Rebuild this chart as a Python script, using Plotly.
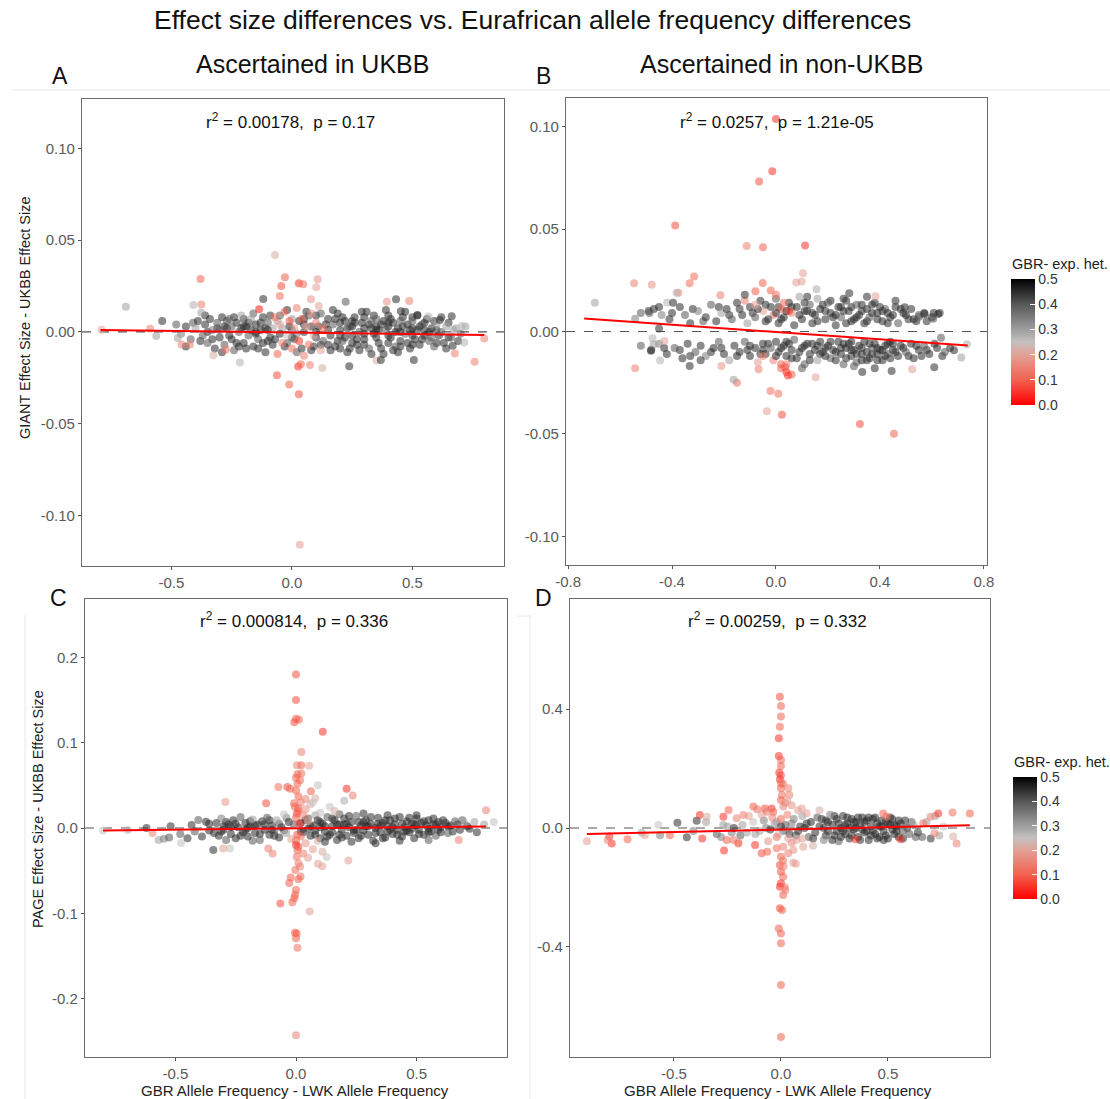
import plotly.graph_objects as go

W, H = 1110, 1099

# ---------------------------------------------------------------------------
# Data: (GBR - LWK allele frequency difference, effect size difference, GBR exp. het.)
# ---------------------------------------------------------------------------
giant_ukbb_bulk = [
    (-0.44, -0.008, .45), (-0.41, 0.005, .4), (-0.38, -0.005, .45), (-0.36, 0.009, .45), (-0.33, -0.004, .45),
    (-0.31, 0.002, .45), (-0.29, -0.011, .45), (-0.27, 0.006, .4), (-0.26, -0.002, .45), (-0.24, 0.008, .45),
    (-0.23, -0.006, .45), (-0.21, 0.002, .45), (-0.19, -0.009, .45), (-0.18, 0.005, .45), (-0.16, 0.01, .4),
    (-0.14, -0.009, .45), (-0.13, 0.005, .45), (-0.11, 0.002, .45), (-0.09, 0.009, .45), (-0.08, -0.007, .45),
    (-0.06, 0.006, .3), (-0.04, 0.002, .3), (-0.02, -0.006, .4), (0.0, 0.007, .3), (0.02, -0.001, .35),
    (0.04, -0.009, .45), (0.06, 0.011, .45), (0.08, 0.003, .45), (0.1, 0.009, .45), (0.12, -0.007, .45),
    (0.14, 0.004, .45), (0.16, -0.01, .45), (0.17, 0.012, .45), (0.19, -0.005, .45), (0.21, 0.008, .45),
    (0.23, 0.002, .45), (0.24, -0.009, .45), (0.26, 0.005, .45), (0.27, -0.004, .45), (0.29, 0.011, .45),
    (0.3, -0.007, .45), (0.32, 0.004, .45), (0.33, -0.012, .45), (0.34, 0.009, .45), (0.36, 0.001, .45),
    (0.37, -0.009, .45), (0.39, 0.012, .45), (0.4, -0.002, .45), (0.41, 0.007, .45), (0.43, 0.0, .45),
    (0.44, -0.011, .45), (0.46, 0.003, .45), (0.47, 0.011, .45), (0.49, 0.001, .45), (0.5, -0.007, .45),
    (0.52, 0.009, .45), (0.54, -0.004, .45), (0.55, 0.005, .45), (0.57, 0.0, .45), (0.59, 0.006, .45),
    (0.6, -0.006, .45), (0.62, 0.008, .45), (0.64, -0.009, .45), (0.65, 0.005, .45), (0.67, 0.001, .3),
    (0.69, -0.005, .45), (-0.35, 0.0, .45), (-0.28, 0.003, .45), (-0.2, 0.007, .45), (-0.15, 0.0, .45),
    (-0.1, -0.005, .45), (0.0, -0.003, .45), (0.05, 0.007, .45), (0.1, 0.0, .45), (0.15, -0.007, .45),
    (0.2, -0.002, .45), (0.25, 0.006, .45), (0.3, -0.001, .45), (0.35, 0.001, .45), (0.4, 0.005, .45),
    (0.45, -0.008, .45), (0.5, 0.008, .45), (0.55, 0.001, .45), (0.6, 0.001, .45), (0.65, -0.003, .45),
]

giant_ukbb_asc = [
    (-0.48, 0.004, .4), (-0.46, -0.001, .35), (-0.44, 0.003, .45), (-0.42, -0.004, .4), (-0.40, 0.002, .3),
    (-0.39, 0.006, .45), (-0.37, -0.002, .4), (-0.36, 0.004, .45), (-0.35, -0.006, .4), (-0.34, 0.007, .45),
    (-0.33, 0.001, .35), (-0.32, -0.009, .45), (-0.31, 0.005, .4), (-0.30, -0.003, .45), (-0.29, 0.008, .45),
    (-0.28, -0.007, .4), (-0.27, 0.002, .45), (-0.26, 0.007, .4), (-0.25, -0.004, .45), (-0.24, -0.01, .4),
    (-0.23, 0.005, .45), (-0.22, 0.0, .4), (-0.21, 0.009, .3), (-0.20, -0.006, .45), (-0.19, 0.003, .45),
    (-0.18, -0.002, .4), (-0.17, 0.007, .3), (-0.16, -0.008, .45), (-0.15, 0.004, .45), (-0.14, -0.004, .4),
    (-0.13, 0.001, .45), (-0.12, 0.008, .45), (-0.11, -0.011, .45), (-0.10, 0.005, .4), (-0.09, -0.003, .45),
    (-0.08, 0.002, .3), (-0.07, -0.004, .45), (-0.05, 0.009, .4), (-0.03, -0.008, .45), (-0.01, 0.003, .45),
    (0.01, -0.004, .4), (0.03, 0.006, .45), (0.05, 0.0, .45), (0.07, 0.009, .4), (0.09, -0.008, .45),
    (0.11, 0.003, .45), (0.13, -0.005, .4), (0.15, 0.007, .45), (0.16, -0.002, .45), (0.17, 0.004, .4),
    (0.18, -0.008, .45), (0.19, 0.01, .45), (0.20, 0.001, .45), (0.21, -0.005, .4), (0.22, 0.006, .45),
    (0.23, -0.011, .45), (0.24, 0.003, .4), (0.25, -0.002, .45), (0.26, 0.008, .45), (0.27, -0.007, .45),
    (0.28, 0.0, .4), (0.29, 0.005, .45), (0.30, -0.004, .45), (0.31, 0.011, .45), (0.32, -0.009, .4),
    (0.33, 0.002, .45), (0.34, -0.001, .45), (0.35, 0.007, .4), (0.36, -0.006, .45), (0.37, 0.004, .45),
    (0.38, -0.012, .45), (0.39, 0.001, .4), (0.40, 0.009, .45), (0.41, -0.003, .45), (0.42, 0.005, .45),
    (0.43, -0.008, .4), (0.44, 0.002, .45), (0.45, -0.005, .45), (0.46, 0.008, .45), (0.47, -0.001, .4),
    (0.48, 0.004, .45), (0.49, -0.009, .45), (0.50, 0.006, .4), (0.51, -0.004, .45), (0.52, 0.001, .45),
    (0.53, -0.007, .45), (0.54, 0.004, .4), (0.55, -0.002, .45), (0.56, 0.007, .45), (0.57, -0.005, .4),
    (0.58, 0.002, .45), (0.59, -0.008, .4), (0.60, 0.004, .3), (0.61, -0.002, .45), (0.62, 0.0, .4),
    (0.63, -0.006, .45), (0.64, 0.003, .3), (0.66, -0.003, .4), (0.68, 0.002, .3), (0.70, -0.001, .4),
    (0.72, 0.003, .3), (-0.2, 0.003, .45), (-0.15, -0.001, .45), (-0.1, 0.001, .45), (-0.05, -0.001, .45),
    (0.0, 0.001, .4), (0.05, 0.004, .45), (0.1, -0.003, .45), (0.15, 0.001, .45), (0.2, 0.005, .45),
    (0.2, -0.009, .45), (0.25, 0.003, .45), (0.25, -0.006, .45), (0.3, 0.002, .45), (0.3, 0.008, .45),
    (0.35, -0.003, .45), (0.35, 0.003, .45), (0.4, -0.006, .45), (0.4, 0.003, .45), (0.45, 0.0, .45),
    (0.45, 0.006, .4), (0.5, -0.002, .45), (0.5, 0.002, .45), (-0.25, 0.003, .4), (-0.3, 0.001, .4),
    (0.18, 0.007, .45), (0.22, -0.003, .45), (0.28, -0.01, .45), (0.33, 0.006, .4), (0.38, 0.006, .45),
    (0.42, -0.01, .45), (0.48, -0.006, .45), (0.53, 0.003, .45), (0.58, -0.003, .4), (-0.12, -0.006, .45),
    (-0.17, 0.001, .45), (-0.22, -0.008, .45), (0.12, 0.01, .4), (0.08, -0.01, .45), (0.02, -0.011, .4),
    (-0.02, 0.012, .45),
    (-0.07, 0.008, .12), (-0.06, -0.012, .1), (-0.05, 0.004, .2), (-0.04, -0.006, .15), (-0.03, 0.011, .1),
    (-0.02, -0.002, .25), (-0.01, 0.006, .08), (0.0, -0.009, .12), (0.01, 0.002, .2), (0.02, 0.013, .15),
    (0.03, -0.005, .05), (0.04, 0.007, .1), (0.05, -0.013, .15), (0.06, 0.003, .2), (0.07, -0.007, .12),
    (0.08, 0.01, .18), (0.09, -0.002, .22), (0.10, 0.005, .15), (0.12, -0.01, .2), (0.13, 0.002, .12),
    (-0.07, 0.042, .22), (-0.379, 0.0289, .1), (-0.029, 0.0298, .1), (-0.044, 0.025, .08), (0.029, 0.0265, .05),
    (0.047, 0.026, .12), (0.107, 0.0287, .18), (0.101, 0.0244, .2), (-0.05, 0.0196, .12), (-0.119, 0.018, .45),
    (-0.136, 0.0124, .03), (-0.689, 0.0138, .3), (-0.409, 0.0147, .27), (-0.376, 0.0149, .15), (-0.376, 0.0104, .3),
    (0.223, 0.0165, .4), (0.394, 0.0165, .18), (0.432, 0.0178, .45), (0.487, 0.0169, .15), (0.079, 0.0178, .18),
    (0.111, 0.0142, .2), (-0.538, 0.006, .45), (-0.588, 0.0018, .15), (-0.563, -0.0022, .3), (-0.474, -0.0033, .3),
    (-0.458, -0.0069, .15), (-0.423, -0.0069, .15), (-0.216, -0.0167, .27), (-0.326, -0.0127, .22), (-0.274, -0.0095, .12),
    (-0.062, -0.0236, .08), (-0.011, -0.0287, .1), (0.029, -0.034, .08), (0.026, -0.0189, .05), (0.037, -0.0176, .1),
    (0.075, -0.018, .15), (0.126, -0.0196, .22), (0.238, -0.0187, .45), (0.351, -0.0156, .22), (0.369, -0.0153, .45),
    (0.506, -0.0153, .45), (0.676, -0.0118, .15), (0.758, -0.0162, .15), (0.798, -0.0036, .15), (0.715, -0.0058, .27),
    (0.667, -0.0075, .45), (0.663, 0.0085, .45), (0.705, 0.0033, .27), (0.614, 0.0065, .45), (0.566, 0.0084, .27),
    (0.521, 0.0093, .45), (0.452, 0.0113, .45), (0.033, -0.116, .2), (-0.79, 0.0012, .2),
]

giant_nonukbb_bulk = [
    (-0.45, 0.012, .45), (-0.4, 0.009, .45), (-0.32, 0.011, .45), (-0.28, 0.005, .4), (-0.22, 0.012, .45),
    (-0.18, 0.008, .45), (-0.14, 0.011, .45), (-0.09, 0.009, .45), (-0.04, 0.013, .45), (0.01, 0.012, .45),
    (0.02, 0.006, .45), (0.06, 0.012, .45), (0.09, 0.008, .45), (0.11, 0.014, .45), (0.14, 0.009, .45),
    (0.16, 0.005, .45), (0.19, 0.01, .45), (0.21, 0.015, .45), (0.23, 0.008, .45), (0.25, 0.012, .45),
    (0.27, 0.004, .45), (0.29, 0.012, .45), (0.31, 0.007, .45), (0.33, 0.01, .45), (0.35, 0.005, .45),
    (0.37, 0.013, .45), (0.39, 0.006, .45), (0.41, 0.01, .45), (0.43, 0.004, .45), (0.45, 0.008, .45),
    (0.48, 0.011, .45), (0.5, 0.008, .45), (0.52, 0.011, .45), (0.54, 0.005, .45), (0.57, 0.009, .45),
    (0.6, 0.007, .45), (0.63, 0.009, .45), (0.12, 0.017, .45), (0.26, 0.016, .45), (0.35, 0.017, .45),
    (-0.43, -0.008, .45), (-0.37, -0.009, .45), (-0.33, -0.012, .45), (-0.25, -0.01, .45), (-0.21, -0.008, .45),
    (-0.15, -0.012, .45), (-0.11, -0.009, .45), (-0.06, -0.011, .45), (-0.03, -0.006, .45), (0.02, -0.008, .45),
    (0.04, -0.005, .45), (0.06, -0.013, .45), (0.09, -0.01, .45), (0.11, -0.007, .45), (0.13, -0.014, .45),
    (0.14, -0.006, .45), (0.17, -0.011, .45), (0.19, -0.008, .45), (0.21, -0.005, .45), (0.23, -0.01, .45),
    (0.25, -0.008, .45), (0.27, -0.013, .45), (0.29, -0.005, .45), (0.31, -0.011, .45), (0.33, -0.008, .45),
    (0.35, -0.014, .45), (0.37, -0.011, .45), (0.39, -0.014, .45), (0.41, -0.009, .45), (0.43, -0.006, .45),
    (0.44, -0.013, .45), (0.46, -0.01, .45), (0.49, -0.008, .45), (0.51, -0.012, .45), (0.54, -0.007, .45),
    (0.56, -0.012, .45), (0.58, -0.009, .45), (0.61, -0.006, .45), (0.64, -0.012, .45), (0.67, -0.008, .45),
    (0.1, -0.018, .4), (0.3, -0.017, .4), (0.38, -0.018, .45),
]

giant_nonukbb_asc = [
    (-0.52, 0.009, .4), (-0.47, 0.011, .45), (-0.44, 0.008, .35), (-0.41, 0.006, .45), (-0.37, 0.012, .45),
    (-0.35, 0.008, .4), (-0.33, 0.004, .45), (-0.30, 0.01, .35), (-0.27, 0.007, .45), (-0.25, 0.013, .4),
    (-0.23, 0.005, .45), (-0.21, 0.009, .3), (-0.19, 0.011, .45), (-0.17, 0.006, .4), (-0.15, 0.014, .45),
    (-0.13, 0.008, .45), (-0.11, 0.004, .3), (-0.10, 0.012, .45), (-0.08, 0.007, .4), (-0.06, 0.015, .45),
    (-0.05, 0.01, .2), (-0.04, 0.005, .45), (-0.02, 0.012, .45), (-0.01, 0.008, .15), (0.0, 0.016, .4),
    (0.01, 0.004, .45), (0.02, 0.011, .1), (0.03, 0.007, .45), (0.05, 0.014, .45), (0.06, 0.009, .15),
    (0.07, 0.003, .45), (0.08, 0.012, .45), (0.09, 0.017, .3), (0.10, 0.006, .45), (0.11, 0.01, .45),
    (0.13, 0.013, .4), (0.14, 0.004, .45), (0.15, 0.008, .45), (0.16, 0.016, .3), (0.17, 0.011, .45),
    (0.19, 0.006, .45), (0.20, 0.014, .4), (0.21, 0.009, .45), (0.23, 0.003, .45), (0.24, 0.012, .45),
    (0.25, 0.007, .4), (0.27, 0.015, .45), (0.28, 0.01, .45), (0.29, 0.005, .45), (0.31, 0.013, .4),
    (0.32, 0.008, .45), (0.34, 0.004, .45), (0.35, 0.011, .45), (0.36, 0.007, .4), (0.38, 0.014, .45),
    (0.39, 0.009, .45), (0.41, 0.005, .45), (0.42, 0.011, .4), (0.44, 0.007, .45), (0.46, 0.012, .45),
    (0.47, 0.004, .4), (0.49, 0.009, .45), (0.51, 0.006, .45), (0.55, 0.008, .4), (0.58, 0.005, .45),
    (0.18, 0.013, .45), (0.22, 0.007, .45), (0.26, 0.01, .45), (0.3, 0.006, .45), (0.33, 0.013, .45),
    (0.37, 0.009, .45), (0.4, 0.012, .45), (0.43, 0.009, .45), (0.0, 0.009, .45), (-0.03, 0.006, .45),
    (0.04, 0.01, .45), (-0.07, 0.011, .45), (0.12, 0.01, .45),
    (-0.52, -0.007, .4), (-0.48, -0.009, .45), (-0.45, -0.006, .35), (-0.42, -0.011, .45), (-0.39, -0.008, .4),
    (-0.36, -0.013, .45), (-0.34, -0.006, .45), (-0.31, -0.01, .4), (-0.29, -0.007, .45), (-0.27, -0.012, .35),
    (-0.24, -0.008, .45), (-0.22, -0.005, .4), (-0.20, -0.011, .45), (-0.18, -0.014, .3), (-0.16, -0.007, .45),
    (-0.14, -0.01, .45), (-0.12, -0.005, .4), (-0.10, -0.012, .45), (-0.08, -0.008, .45), (-0.07, -0.015, .2),
    (-0.05, -0.006, .45), (-0.04, -0.011, .45), (-0.02, -0.008, .4), (-0.01, -0.014, .15), (0.0, -0.005, .45),
    (0.01, -0.01, .45), (0.02, -0.016, .1), (0.03, -0.007, .45), (0.04, -0.012, .45), (0.06, -0.009, .45),
    (0.07, -0.004, .4), (0.08, -0.013, .45), (0.10, -0.008, .45), (0.11, -0.016, .4), (0.12, -0.006, .45),
    (0.13, -0.011, .45), (0.15, -0.009, .45), (0.16, -0.014, .3), (0.17, -0.005, .45), (0.18, -0.01, .45),
    (0.20, -0.007, .45), (0.21, -0.013, .4), (0.22, -0.009, .45), (0.24, -0.005, .45), (0.25, -0.011, .45),
    (0.26, -0.016, .4), (0.27, -0.008, .45), (0.28, -0.006, .45), (0.29, -0.012, .45), (0.30, -0.009, .45),
    (0.31, -0.015, .4), (0.32, -0.007, .45), (0.33, -0.011, .45), (0.34, -0.005, .45), (0.35, -0.01, .45),
    (0.36, -0.013, .45), (0.37, -0.008, .4), (0.38, -0.006, .45), (0.39, -0.011, .45), (0.40, -0.009, .45),
    (0.41, -0.014, .45), (0.42, -0.007, .45), (0.43, -0.011, .4), (0.44, -0.005, .45), (0.45, -0.009, .45),
    (0.47, -0.012, .45), (0.48, -0.007, .45), (0.50, -0.01, .4), (0.52, -0.006, .45), (0.53, -0.013, .45),
    (0.55, -0.009, .45), (0.57, -0.007, .4), (0.59, -0.011, .45), (0.62, -0.008, .45), (0.65, -0.01, .4),
    (0.16, -0.007, .45), (0.19, -0.012, .45), (0.23, -0.014, .45), (0.26, -0.006, .45), (0.29, -0.009, .45),
    (0.33, -0.014, .45), (0.36, -0.006, .45), (0.39, -0.008, .45), (0.42, -0.012, .45), (0.45, -0.006, .45),
    (-0.05, -0.009, .45), (0.05, -0.006, .45), (0.0, -0.012, .45), (-0.1, -0.007, .45),
    (-0.02, 0.02, .1), (0.0, 0.018, .12), (0.03, 0.014, .12), (0.05, 0.01, .05), (-0.05, -0.012, .15),
    (0.02, -0.018, .1), (0.06, -0.021, .1), (0.04, -0.016, .15), (-0.08, 0.013, .2), (-0.12, 0.015, .15),
    (0.0, 0.1037, .05), (-0.014, 0.0782, .05), (-0.065, 0.0732, .08), (-0.388, 0.0517, .08), (-0.113, 0.0418, .15),
    (-0.05, 0.0411, .1), (0.112, 0.042, .05), (0.104, 0.0285, .2), (0.099, 0.0244, .2), (0.078, 0.0239, .2),
    (-0.051, 0.0237, .1), (-0.079, 0.0197, .1), (-0.546, 0.0236, .15), (-0.478, 0.0228, .18), (-0.315, 0.0268, .12),
    (-0.332, 0.0236, .12), (-0.376, 0.0189, .15), (-0.383, 0.0189, .27), (-0.214, 0.0177, .15), (-0.697, 0.014, .3),
    (-0.542, -0.0179, .15), (-0.021, -0.0291, .12), (0.009, -0.0304, .12), (-0.035, -0.0389, .2), (0.023, -0.0407, .08),
    (0.323, -0.0452, .08), (0.454, -0.0499, .1), (-0.15, -0.025, .12), (-0.163, -0.0236, .3), (-0.21, -0.0169, .18),
    (0.04, -0.0198, .05), (0.046, -0.0215, .05), (0.035, -0.0175, .08), (-0.067, -0.0184, .15), (0.153, -0.0223, .2),
    (0.524, -0.0184, .2), (0.609, -0.0174, .45), (0.445, -0.0193, .45), (0.332, -0.0198, .45), (0.383, 0.0172, .2),
    (0.735, -0.0062, .28), (0.685, -0.0091, .45), (0.713, -0.0127, .3), (0.635, -0.0031, .4), (0.607, 0.009, .45),
    (0.624, 0.0086, .45), (0.605, 0.0062, .4), (0.53, 0.006, .45), (0.551, 0.0072, .4), (0.572, 0.0085, .45),
    (0.46, 0.015, .45), (0.495, 0.0119, .45), (0.282, 0.0187, .45), (0.156, 0.0206, .28), (-0.12, 0.018, .45),
    (-0.419, 0.0141, .27), (-0.396, 0.014, .45), (-0.49, 0.01, .45), (-0.487, 0.009, .4), (-0.542, 0.0062, .35),
    (-0.45, 0.0015, .45), (-0.475, -0.0033, .27), (-0.471, -0.0063, .3), (-0.481, -0.0094, .45), (-0.446, -0.0141, .27),
    (-0.429, -0.0046, .2), (-0.332, -0.0169, .45), (-0.29, -0.014, .45),
]

page_ukbb_bulk = [
    (-0.36, 0.005, .45), (-0.34, -0.006, .45), (-0.31, -0.004, .45), (-0.29, 0.007, .45), (-0.27, 0.001, .45),
    (-0.25, 0.005, .45), (-0.23, -0.009, .45), (-0.21, -0.002, .45), (-0.19, 0.008, .45), (-0.17, 0.003, .45),
    (-0.15, -0.007, .45), (-0.13, 0.004, .45), (-0.11, 0.009, .45), (-0.09, -0.009, .45), (-0.07, 0.005, .4),
    (-0.05, -0.003, .4), (0.02, -0.004, .45), (0.04, 0.009, .45), (0.06, 0.002, .45), (0.08, -0.008, .45),
    (0.1, 0.007, .45), (0.12, 0.002, .45), (0.13, -0.01, .45), (0.15, 0.011, .45), (0.17, 0.004, .45),
    (0.19, -0.011, .45), (0.21, 0.005, .45), (0.22, 0.014, .45), (0.24, -0.003, .45), (0.26, 0.007, .45),
    (0.27, -0.009, .45), (0.29, 0.002, .45), (0.31, 0.013, .45), (0.33, -0.006, .45), (0.34, 0.005, .45),
    (0.36, -0.012, .45), (0.37, 0.009, .45), (0.39, -0.002, .45), (0.41, 0.011, .45), (0.42, -0.008, .45),
    (0.44, 0.005, .45), (0.46, -0.003, .45), (0.47, 0.012, .45), (0.49, 0.004, .45), (0.51, -0.007, .45),
    (0.53, 0.008, .45), (0.55, -0.005, .45), (0.57, 0.011, .45), (0.59, -0.002, .45), (0.61, 0.009, .45),
    (0.63, 0.002, .45), (0.65, -0.004, .45), (0.67, 0.004, .45), (0.69, 0.009, .4), (0.71, 0.002, .45),
    (0.23, -0.016, .45), (0.33, -0.018, .45), (0.43, -0.015, .45), (0.28, 0.017, .45), (0.38, 0.015, .45),
    (0.18, 0.016, .4), (0.5, 0.015, .45), (0.55, -0.014, .4), (0.12, -0.016, .45), (0.08, 0.015, .3),
    (-0.04, 0.012, .35), (-0.18, -0.015, .4),
]

page_ukbb_asc = [
    (-0.62, 0.0, .45), (-0.595, -0.006, .15), (-0.57, -0.014, .3), (-0.548, -0.0125, .35), (-0.526, -0.011, .4),
    (-0.52, 0.002, .45), (-0.48, -0.007, .4), (-0.477, -0.0176, .25), (-0.45, -0.012, .45), (-0.433, 0.0035, .45),
    (-0.42, -0.004, .4), (-0.405, 0.0094, .4), (-0.39, -0.01, .45), (-0.373, 0.0074, .45), (-0.36, -0.003, .45),
    (-0.343, -0.0258, .45), (-0.33, 0.006, .45), (-0.32, -0.009, .45), (-0.31, 0.011, .35), (-0.30, -0.002, .45),
    (-0.29, -0.014, .4), (-0.28, 0.004, .45), (-0.27, -0.007, .45), (-0.26, 0.009, .45), (-0.25, -0.012, .45),
    (-0.24, 0.001, .45), (-0.23, 0.013, .4), (-0.22, -0.005, .45), (-0.21, 0.006, .45), (-0.20, -0.01, .45),
    (-0.19, 0.002, .45), (-0.18, 0.01, .3), (-0.17, -0.006, .45), (-0.16, 0.004, .45), (-0.15, -0.014, .4),
    (-0.14, 0.008, .45), (-0.13, -0.002, .45), (-0.12, 0.012, .4), (-0.11, -0.008, .45), (-0.10, 0.003, .45),
    (-0.09, -0.004, .4), (-0.08, 0.009, .3), (-0.07, -0.011, .45), (-0.06, 0.001, .45), (-0.05, 0.016, .25),
    (-0.04, -0.006, .3), (-0.03, 0.007, .45), (-0.02, -0.013, .2), (-0.01, 0.004, .4), (-0.698, -0.0023, .27),
    (0.02, 0.006, .45), (0.03, -0.005, .45), (0.05, 0.011, .4), (0.06, -0.009, .45), (0.07, 0.003, .45),
    (0.08, -0.003, .45), (0.09, 0.009, .45), (0.10, -0.012, .45), (0.11, 0.005, .45), (0.12, -0.004, .45),
    (0.13, 0.013, .4), (0.14, -0.008, .45), (0.15, 0.002, .45), (0.16, 0.009, .45), (0.17, -0.014, .45),
    (0.18, 0.004, .45), (0.19, -0.002, .45), (0.20, 0.011, .45), (0.21, -0.009, .45), (0.22, 0.001, .45),
    (0.23, 0.007, .45), (0.24, -0.006, .45), (0.25, 0.014, .4), (0.26, -0.012, .45), (0.27, 0.003, .45),
    (0.28, -0.003, .45), (0.29, 0.009, .45), (0.30, -0.008, .45), (0.31, 0.005, .45), (0.32, -0.015, .45),
    (0.33, 0.0, .45), (0.34, 0.012, .45), (0.35, -0.005, .45), (0.36, 0.006, .45), (0.37, -0.011, .45),
    (0.38, 0.002, .45), (0.39, 0.009, .45), (0.40, -0.007, .45), (0.41, 0.004, .45), (0.42, -0.002, .45),
    (0.43, 0.013, .45), (0.44, -0.01, .45), (0.45, 0.001, .45), (0.46, 0.008, .45), (0.47, -0.005, .45),
    (0.48, 0.005, .45), (0.49, -0.012, .45), (0.50, 0.011, .45), (0.51, -0.002, .45), (0.52, 0.006, .45),
    (0.53, -0.008, .45), (0.54, 0.003, .45), (0.55, 0.009, .45), (0.56, -0.004, .45), (0.57, 0.004, .45),
    (0.58, -0.009, .4), (0.59, 0.007, .45), (0.60, 0.001, .45), (0.62, 0.006, .45), (0.63, -0.006, .4),
    (0.64, 0.003, .45), (0.66, 0.008, .4), (0.68, -0.002, .45), (0.70, 0.005, .3), (0.72, -0.001, .45),
    (0.74, 0.007, .3), (0.75, -0.005, .45), (0.78, 0.004, .3), (0.82, 0.007, .25),
    (0.15, -0.005, .45), (0.2, 0.004, .45), (0.25, -0.002, .45), (0.3, 0.002, .45), (0.35, 0.003, .45),
    (0.4, 0.001, .45), (0.45, -0.004, .45), (0.5, 0.003, .45), (0.55, -0.001, .45), (0.6, -0.005, .45),
    (-0.1, -0.002, .45), (-0.2, 0.0, .45), (-0.3, 0.002, .45), (0.1, 0.001, .45), (0.05, -0.001, .45),
    (0.18, -0.008, .45), (0.28, 0.007, .45), (0.38, -0.004, .45), (0.48, -0.001, .45), (0.58, 0.004, .45),
    (0.0, 0.012, .1), (0.005, -0.008, .08), (0.01, 0.02, .12), (0.0, -0.015, .1), (0.015, 0.005, .05),
    (-0.005, 0.025, .1), (0.01, -0.022, .08), (0.02, 0.03, .15), (0.02, -0.01, .12), (0.03, 0.015, .15),
    (0.03, -0.03, .15), (0.04, 0.022, .18), (0.04, -0.018, .18), (0.05, 0.008, .2), (0.05, -0.035, .2),
    (0.06, 0.028, .22), (0.07, -0.025, .2), (0.08, 0.035, .22), (0.09, -0.015, .22), (0.1, 0.018, .25),
    (0.11, -0.028, .22),
    (0.675, -0.014, .15), (0.788, 0.0207, .15), (0.217, -0.038, .2), (0.127, -0.034, .25), (0.109, -0.045, .2),
    (0.091, -0.042, .2), (-0.115, -0.024, .15), (-0.097, -0.03, .15), (-0.274, -0.024, .25), (-0.302, -0.024, .2),
    (-0.293, 0.0305, .18), (-0.124, 0.029, .08), (0.21, 0.046, .05), (0.235, 0.038, .15), (0.091, 0.05, .25),
    (0.062, 0.043, .1), (0.14, 0.025, .25), (0.07, 0.03, .25), (0.04, 0.034, .15), (0.16, 0.02, .22),
    (0.2, 0.032, .28), (-0.8, -0.003, .25),
    (0.0, 0.18, .08), (0.0, 0.15, .08), (0.0, 0.128, .1), (0.012, 0.127, .1), (-0.007, 0.124, .08),
    (0.111, 0.113, .05), (0.022, 0.089, .15), (0.004, 0.0735, .15), (0.022, 0.0735, .1), (0.055, 0.073, .2),
    (0.006, 0.063, .1), (0.022, 0.064, .12), (0.0, 0.059, .1), (0.017, 0.056, .12), (0.006, 0.052, .1),
    (-0.073, 0.048, .12), (-0.036, 0.048, .08), (-0.024, 0.046, .1), (0.0, 0.044, .1), (0.01, 0.037, .1),
    (-0.008, 0.029, .1), (0.01, 0.023, .1), (0.003, 0.017, .08),
    (0.0, -0.02, .05), (0.006, -0.0258, .1), (0.003, -0.0336, .12), (0.01, -0.0414, .15), (0.017, -0.0453, .15),
    (-0.003, -0.0493, .12), (0.019, -0.057, .12), (-0.022, -0.058, .1), (0.01, -0.06, .1), (-0.028, -0.0645, .1),
    (0.0, -0.0727, .1), (-0.004, -0.0786, .1), (-0.007, -0.0825, .1), (-0.015, -0.0872, .1), (-0.065, -0.0887, .08),
    (0.057, -0.098, .2), (-0.004, -0.1228, .08), (0.003, -0.1236, .1), (0.0, -0.1294, .1), (0.006, -0.1404, .12),
    (0.0, -0.243, .15),
]

page_nonukbb_bulk = [
    (0.12, 0.015, .45), (0.15, -0.035, .45), (0.19, 0.03, .45), (0.21, -0.025, .45), (0.25, 0.04, .45),
    (0.27, 0.015, .45), (0.29, -0.01, .45), (0.31, 0.035, .45), (0.33, -0.025, .45), (0.35, 0.0, .45),
    (0.37, -0.04, .45), (0.39, 0.02, .45), (0.41, 0.035, .45), (0.43, -0.01, .45), (0.45, -0.035, .45),
    (0.47, 0.005, .45), (0.49, -0.025, .45), (0.51, 0.035, .45), (0.53, 0.01, .45), (0.55, 0.025, .45),
    (0.57, -0.035, .45), (0.59, 0.0, .45), (0.61, 0.02, .4), (0.63, -0.03, .4), (-0.27, 0.01, .3),
    (-0.23, -0.015, .35), (-0.18, 0.01, .3), (-0.12, -0.02, .3), (-0.07, 0.0, .35), (-0.02, 0.02, .3),
    (0.01, -0.01, .4), (0.05, 0.015, .35), (0.07, -0.025, .4), (0.09, 0.005, .45), (-0.35, 0.02, .3),
    (-0.41, -0.01, .35),
]

page_nonukbb_asc = [
    (0.02, 0.01, .4), (0.04, -0.02, .45), (0.06, 0.03, .35), (0.08, -0.01, .45), (0.1, 0.04, .3),
    (0.11, 0.0, .45), (0.13, -0.03, .4), (0.14, 0.02, .45), (0.16, -0.015, .45), (0.17, 0.035, .4),
    (0.18, 0.005, .45), (0.2, -0.04, .35), (0.21, 0.025, .45), (0.22, -0.01, .45), (0.23, 0.045, .35),
    (0.24, 0.01, .45), (0.25, -0.025, .45), (0.26, 0.03, .45), (0.27, -0.045, .4), (0.28, 0.0, .45),
    (0.29, 0.04, .45), (0.3, -0.02, .45), (0.31, 0.015, .45), (0.32, -0.035, .45), (0.33, 0.03, .45),
    (0.34, -0.005, .45), (0.35, 0.02, .45), (0.36, -0.03, .45), (0.37, 0.01, .45), (0.38, 0.035, .45),
    (0.39, -0.015, .45), (0.4, 0.025, .45), (0.41, -0.04, .45), (0.42, 0.005, .45), (0.43, 0.03, .45),
    (0.44, -0.02, .45), (0.45, 0.015, .45), (0.46, -0.03, .45), (0.47, 0.025, .45), (0.48, -0.01, .45),
    (0.49, 0.02, .45), (0.5, -0.035, .45), (0.51, 0.01, .45), (0.52, 0.03, .45), (0.53, -0.02, .45),
    (0.54, 0.005, .45), (0.55, -0.03, .45), (0.56, 0.015, .45), (0.57, -0.01, .4), (0.58, 0.025, .45),
    (0.6, -0.02, .4), (0.62, 0.01, .3), (0.64, -0.015, .45), (0.66, -0.03, .4), (0.68, 0.02, .3),
    (0.7, -0.035, .45), (0.72, 0.04, .3), (0.74, -0.025, .3), (0.76, 0.005, .25),
    (0.22, 0.02, .45), (0.26, -0.01, .45), (0.3, 0.01, .45), (0.34, 0.02, .45), (0.38, -0.005, .45),
    (0.42, -0.025, .45), (0.46, 0.005, .45), (0.5, 0.015, .45), (0.54, -0.01, .45), (0.28, -0.03, .45),
    (0.32, 0.0, .45), (0.36, 0.035, .45), (0.4, -0.01, .45), (0.44, 0.035, .45), (0.48, -0.04, .45),
    (0.52, -0.005, .45), (0.24, -0.04, .45), (0.2, 0.0, .45),
    (-0.573, 0.01, .25), (-0.484, 0.018, .45), (-0.565, -0.024, .35), (-0.44, -0.031, .45), (-0.394, 0.024, .45),
    (-0.651, -0.016, .3), (-0.3, -0.02, .4), (-0.28, -0.03, .35), (-0.25, 0.005, .3), (-0.22, 0.0, .45),
    (-0.19, -0.025, .4), (-0.16, -0.015, .3), (-0.13, 0.02, .25), (-0.1, -0.01, .3), (-0.08, 0.025, .35),
    (-0.05, -0.005, .45), (-0.03, 0.015, .3), (-0.01, -0.02, .25), (0.0, 0.005, .45),
    (0.0, 0.03, .1), (-0.02, -0.03, .12), (0.03, 0.045, .15), (-0.04, 0.035, .15), (0.05, -0.05, .15),
    (-0.06, -0.045, .18), (0.08, 0.06, .2), (-0.09, 0.045, .2), (0.1, -0.035, .2), (0.12, 0.05, .2),
    (-0.15, 0.04, .2), (0.15, -0.06, .22), (0.18, 0.06, .22), (-0.2, -0.05, .18),
    (-0.129, 0.072, .1), (-0.111, 0.063, .12), (-0.075, 0.066, .08), (-0.044, 0.066, .05), (-0.036, 0.055, .1),
    (-0.067, 0.055, .15), (0.011, 0.072, .15), (0.05, 0.077, .18), (0.097, 0.066, .2), (-0.121, -0.057, .05),
    (-0.09, -0.085, .08), (-0.064, -0.08, .1), (-0.02, -0.068, .12), (0.011, -0.063, .15), (0.034, -0.085, .15),
    (0.058, -0.074, .18), (0.034, -0.035, .2), (0.073, -0.04, .2), (0.104, -0.063, .2), (0.058, -0.117, .18),
    (-0.379, 0.044, .05), (-0.347, 0.038, .22), (-0.269, 0.038, .05), (-0.245, 0.061, .1), (-0.207, 0.033, .15),
    (-0.176, 0.044, .15), (-0.266, -0.076, .05), (-0.254, -0.04, .1), (-0.223, -0.04, .12), (-0.199, -0.052, .1),
    (-0.368, -0.035, .05), (-0.519, -0.024, .1), (-0.636, -0.024, .2), (-0.717, -0.038, .1), (-0.791, -0.052, .05),
    (-0.802, -0.029, .05), (-0.81, -0.04, .15), (0.559, -0.038, .05), (0.665, 0.016, .12), (0.735, 0.049, .05),
    (0.802, 0.052, .12), (0.883, 0.049, .1), (0.805, -0.029, .22), (0.821, -0.052, .15), (0.718, -0.018, .15),
    (0.699, 0.038, .15), (0.478, 0.049, .1), (0.494, 0.038, .12), (0.349, -0.038, .05), (-0.907, -0.045, .2),
    (-0.005, 0.442, .08), (0.0, 0.411, .1), (0.0, 0.375, .1), (-0.005, 0.341, .1), (-0.01, 0.302, .05),
    (-0.01, 0.242, .05), (0.0, 0.229, .1), (0.0, 0.209, .1), (-0.008, 0.186, .05), (0.0, 0.178, .08),
    (-0.005, 0.164, .05), (0.01, 0.15, .15), (0.0, 0.15, .1), (0.034, 0.134, .15), (0.0, 0.134, .1),
    (0.039, 0.111, .15), (0.005, 0.111, .12), (0.0, 0.094, .1), (0.02, 0.085, .15), (0.03, 0.09, .2),
    (0.0, -0.0965, .1), (-0.005, -0.1246, .08), (0.0, -0.147, .08), (0.01, -0.164, .1), (0.0, -0.186, .05),
    (-0.005, -0.1975, .05), (0.01, -0.2256, .1), (-0.005, -0.2705, .08), (0.005, -0.276, .1), (-0.01, -0.338, .1),
    (0.0, -0.355, .1), (0.0, -0.388, .1), (0.0, -0.529, .1), (0.0, -0.704, .1), (0.018, -0.2, .12),
    (0.02, -0.21, .15), (0.012, -0.13, .15), (0.01, -0.11, .12), (0.07, -0.12, .2),
]

# Linear fits (intercept, slope) and the x span they are drawn over
fit_giant_ukbb = (-0.00025, -0.0017, -0.794, 0.798)
fit_giant_nonukbb = (-0.00025, -0.00888, -0.738, 0.738)
fit_page_ukbb = (-0.00048, 0.0029, -0.80, 0.788)
fit_page_nonukbb = (-0.0053, 0.0162, -0.907, 0.883)

stats_labels = [
    "r<sup>2</sup> = 0.00178,  p = 0.17",
    "r<sup>2</sup> = 0.0257,  p = 1.21e-05",
    "r<sup>2</sup> = 0.000814,  p = 0.336",
    "r<sup>2</sup> = 0.00259,  p = 0.332",
]

x_ticks_half = [-0.5, 0.0, 0.5]
x_ticks_half_text = ["-0.5", "0.0", "0.5"]
x_ticks_b = [-0.8, -0.4, 0.0, 0.4, 0.8]
x_ticks_b_text = ["-0.8", "-0.4", "0.0", "0.4", "0.8"]
y_ticks_giant = [-0.10, -0.05, 0.0, 0.05, 0.10]
y_ticks_giant_text = ["-0.10", "-0.05", "0.00", "0.05", "0.10"]
y_ticks_c = [-0.2, -0.1, 0.0, 0.1, 0.2]
y_ticks_c_text = ["-0.2", "-0.1", "0.0", "0.1", "0.2"]
y_ticks_d = [-0.4, 0.0, 0.4]
y_ticks_d_text = ["-0.4", "0.0", "0.4"]
het_ticks = [0.0, 0.1, 0.2, 0.3, 0.4, 0.5]
het_ticks_text = ["0.0", "0.1", "0.2", "0.3", "0.4", "0.5"]

HET_SCALE = [
    [0.0, "#FF0000"], [0.2, "#F2624F"], [0.4, "#E3A196"], [0.5, "#C4C0BF"],
    [0.6, "#9E9E9E"], [0.8, "#575757"], [1.0, "#000000"],
]

FONT = "Liberation Sans, Arial, sans-serif"


def px_x(p):
    return p / W


def px_y(p):
    return 1 - p / H


panels = [
    dict(pts=giant_ukbb_bulk + giant_ukbb_asc, fit=fit_giant_ukbb, box=(82, 504, 99, 566),
         xr=[-0.871, 0.880], yr=[-0.1276, 0.127],
         xt=(x_ticks_half, x_ticks_half_text), yt=(y_ticks_giant, y_ticks_giant_text),
         stat=(290, 121), scale=None),
    dict(pts=giant_nonukbb_bulk + giant_nonukbb_asc, fit=fit_giant_nonukbb, box=(566, 987, 98, 565),
         xr=[-0.808, 0.812], yr=[-0.114, 0.114],
         xt=(x_ticks_b, x_ticks_b_text), yt=(y_ticks_giant, y_ticks_giant_text),
         stat=(777, 121), scale=(1011, 279, 405, 264)),
    dict(pts=page_ukbb_bulk + page_ukbb_asc, fit=fit_page_ukbb, box=(85, 507, 599, 1057),
         xr=[-0.875, 0.875], yr=[-0.2686, 0.2686],
         xt=(x_ticks_half, x_ticks_half_text), yt=(y_ticks_c, y_ticks_c_text),
         stat=(294, 620), scale=None),
    dict(pts=page_nonukbb_bulk + page_nonukbb_asc, fit=fit_page_nonukbb, box=(570, 990, 599, 1057),
         xr=[-0.986, 0.977], yr=[-0.771, 0.771],
         xt=(x_ticks_half, x_ticks_half_text), yt=(y_ticks_d, y_ticks_d_text),
         stat=(778, 620), scale=(1013, 777, 899, 762)),
]

fig = go.Figure()
layout = dict(
    width=W, height=H, margin=dict(l=0, r=0, t=0, b=0, autoexpand=False),
    paper_bgcolor="white", plot_bgcolor="white", showlegend=False,
    font=dict(family=FONT, color="#222"),
)
shapes, annotations = [], []

for i, p in enumerate(panels, start=1):
    sfx = "" if i == 1 else str(i)
    xs = [t[0] for t in p["pts"]]
    ys = [t[1] for t in p["pts"]]
    hs = [t[2] for t in p["pts"]]
    marker = dict(size=8, color=hs, colorscale=HET_SCALE, cmin=0, cmax=0.5,
                  opacity=0.55, line=dict(width=0), showscale=p["scale"] is not None)
    if p["scale"] is not None:
        cx, ctop, cbot, ty = p["scale"]
        marker["colorbar"] = dict(
            x=px_x(cx), xanchor="left", xpad=0,
            y=px_y((ctop + cbot) / 2), yanchor="middle",
            len=(cbot - ctop) / H, lenmode="fraction", thickness=24, ypad=0,
            outlinewidth=0, tickvals=het_ticks, ticktext=het_ticks_text,
            ticks="inside", ticklen=5, tickcolor="white",
            tickfont=dict(size=14, color="#333", family=FONT),
        )
        annotations.append(dict(text="GBR- exp. het.", x=px_x(cx - 1), y=px_y(ty), xref="paper", yref="paper",
                                showarrow=False, xanchor="left", yanchor="middle",
                                font=dict(size=14.5, color="#222", family=FONT)))
    fig.add_trace(go.Scatter(x=xs, y=ys, mode="markers", marker=marker,
                             xaxis="x" + sfx, yaxis="y" + sfx, hoverinfo="skip"))

    b0, slope, xa, xb = p["fit"]
    fig.add_trace(go.Scatter(x=[xa, xb], y=[b0 + slope * xa, b0 + slope * xb], mode="lines",
                             line=dict(color="#FF0000", width=2),
                             xaxis="x" + sfx, yaxis="y" + sfx, hoverinfo="skip"))

    x0, x1, y0, y1 = p["box"]
    axis_common = dict(showgrid=False, zeroline=False, showline=True, mirror=True, automargin=False,
                       linecolor="#6b6b6b", linewidth=1.2, ticks="outside", ticklen=3,
                       tickcolor="#555", tickfont=dict(size=15, color="#5a5a5a", family=FONT))
    layout["xaxis" + sfx] = dict(domain=[px_x(x0), px_x(x1)], range=p["xr"], anchor="y" + sfx,
                                 tickvals=p["xt"][0], ticktext=p["xt"][1], **axis_common)
    layout["yaxis" + sfx] = dict(domain=[px_y(y1), px_y(y0)], range=p["yr"], anchor="x" + sfx,
                                 tickvals=p["yt"][0], ticktext=p["yt"][1], **axis_common)

    shapes.append(dict(type="line", xref=f"x{sfx} domain", yref="y" + sfx, x0=0, x1=1, y0=0, y1=0,
                       line=dict(color="#555", width=1.2, dash="dash"), layer="below"))

    sx, sy = p["stat"]
    annotations.append(dict(text=stats_labels[i - 1], x=px_x(sx), y=px_y(sy), xref="paper", yref="paper",
                            showarrow=False, xanchor="center", yanchor="middle",
                            font=dict(size=17, color="#111", family=FONT)))

# Figure, column and panel titles
texts = [
    ("Effect size differences vs. Eurafrican allele frequency differences", 532, 20, 26.5, "#111"),
    ("Ascertained in UKBB", 312, 64, 25, "#111"),
    ("Ascertained in non-UKBB", 781, 64, 25, "#111"),
    ("A", 60, 76, 23, "#111"), ("B", 543, 76, 23, "#111"),
    ("C", 58, 598, 23, "#111"), ("D", 543, 598, 23, "#111"),
    ("GBR Allele Frequency - LWK Allele Frequency", 295, 1090, 15, "#222"),
    ("GBR Allele Frequency - LWK Allele Frequency", 778, 1090, 15, "#222"),
]
for t, x, y, s, c in texts:
    annotations.append(dict(text=t, x=px_x(x), y=px_y(y), xref="paper", yref="paper", showarrow=False,
                            xanchor="center", yanchor="middle", font=dict(size=s, color=c, family=FONT)))

for t, x, y in [("GIANT Effect Size - UKBB Effect Size", 25, 318),
                ("PAGE Effect Size - UKBB Effect Size", 38, 809)]:
    annotations.append(dict(text=t, x=px_x(x), y=px_y(y), xref="paper", yref="paper", showarrow=False,
                            textangle=-90, xanchor="center", yanchor="middle",
                            font=dict(size=14.5, color="#222", family=FONT)))

# faint panel borders from the composed layout
for xa0, ya0, xa1, ya1 in [(12, 90, 1110, 90), (25, 615, 25, 1099), (530, 615, 530, 1099),
                           (517, 616, 530, 616)]:
    shapes.append(dict(type="line", xref="paper", yref="paper", x0=px_x(xa0), x1=px_x(xa1),
                       y0=px_y(ya0), y1=px_y(ya1), line=dict(color="#e8e8e8", width=1)))

layout["shapes"] = shapes
layout["annotations"] = annotations
fig.update_layout(**layout)
fig.write_html("out.html")
